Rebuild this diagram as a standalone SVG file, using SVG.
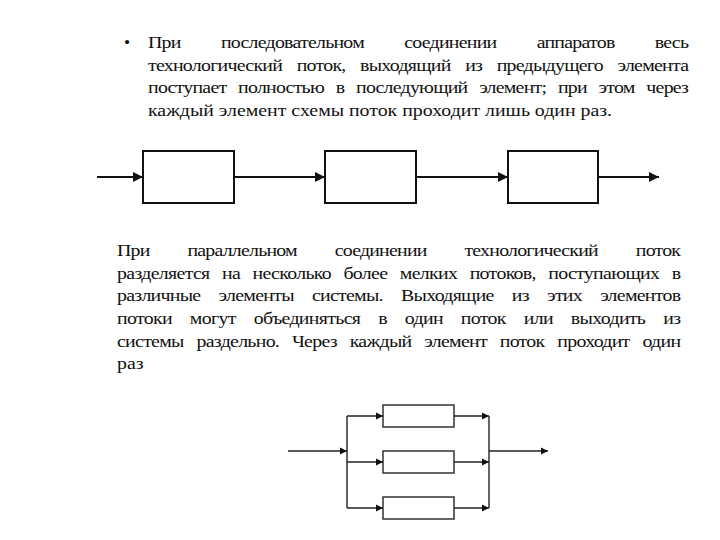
<svg xmlns="http://www.w3.org/2000/svg" width="720" height="540" viewBox="0 0 720 540">
<style>
.t{font-size:17.5px;fill:#111}
.box{fill:#fff;stroke:#111;stroke-width:2}
.pbox{fill:#fff;stroke:#333;stroke-width:1.5}
.c{fill:none;stroke:#111;stroke-width:2}
.pc{fill:none;stroke:#222;stroke-width:1.4}
</style>
<defs>
<marker id="a" viewBox="0 0 10 10" refX="10" refY="5" markerWidth="10" markerHeight="10" markerUnits="userSpaceOnUse" orient="auto"><path d="M0,0 L10,5 L0,10 z" fill="#111"/></marker>
<marker id="b" viewBox="0 0 10 10" refX="10" refY="5" markerWidth="7.5" markerHeight="7.5" markerUnits="userSpaceOnUse" orient="auto"><path d="M0,0 L10,5 L0,10 z" fill="#111"/></marker>
</defs>
<rect width="720" height="540" fill="#fff"/>
<g id="text1" font-family="Liberation Serif, DejaVu Serif, serif">
<text class="t" x="124" y="48">•</text>
<g transform="scale(1.136,1)">
<text class="t" x="130.3" y="48" textLength="476.2" lengthAdjust="spacing" word-spacing="31.7">При последовательном соединении аппаратов весь</text>
<text class="t" x="130.3" y="70.6" textLength="476.2" lengthAdjust="spacing" word-spacing="9.1">технологический поток, выходящий из предыдущего элемента</text>
<text class="t" x="130.3" y="93.2" textLength="476.2" lengthAdjust="spacing" word-spacing="6.6">поступает полностью в последующий элемент; при этом через</text>
<text class="t" x="130.3" y="115.8" textLength="408.5" lengthAdjust="spacing">каждый элемент схемы поток проходит лишь один раз.</text>
</g>
</g>
<g id="text2" font-family="Liberation Serif, DejaVu Serif, serif" transform="scale(1.136,1)">
<text class="t" x="103" y="256.3" textLength="496.5" lengthAdjust="spacing" word-spacing="29.6">При параллельном соединении технологический поток</text>
<text class="t" x="103" y="278.9" textLength="496.5" lengthAdjust="spacing" word-spacing="7.1">разделяется на несколько более мелких потоков, поступающих в</text>
<text class="t" x="103" y="301.5" textLength="496.5" lengthAdjust="spacing" word-spacing="12.3">различные элементы системы. Выходящие из этих элементов</text>
<text class="t" x="103" y="324.1" textLength="496.5" lengthAdjust="spacing" word-spacing="12">потоки могут объединяться в один поток или выходить из</text>
<text class="t" x="103" y="346.7" textLength="496.5" lengthAdjust="spacing" word-spacing="7.5">системы раздельно. Через каждый элемент поток проходит один</text>
<text class="t" x="103" y="369.3">раз</text>
</g>
<g id="series-box1"><rect class="box" x="143" y="151" width="91" height="52"/></g>
<g id="series-box2"><rect class="box" x="325" y="151" width="91" height="52"/></g>
<g id="series-box3"><rect class="box" x="508" y="151" width="90" height="52"/></g>
<g id="par-box1"><rect class="pbox" x="383" y="405" width="71" height="22"/></g>
<g id="par-box2"><rect class="pbox" x="383" y="451" width="71" height="22"/></g>
<g id="par-box3"><rect class="pbox" x="383" y="497" width="71" height="22"/></g>
<g id="connectors">
<path class="c" d="M97,177 H143" marker-end="url(#a)"/>
<path class="c" d="M234,177 H325" marker-end="url(#a)"/>
<path class="c" d="M416,177 H508" marker-end="url(#a)"/>
<path class="c" d="M598,177 H659" marker-end="url(#a)"/>
<path class="pc" d="M288,451 H347" marker-end="url(#b)"/>
<path class="pc" d="M347,416 V508"/>
<path class="pc" d="M347,416 H383" marker-end="url(#b)"/>
<path class="pc" d="M347,462 H383" marker-end="url(#b)"/>
<path class="pc" d="M347,508 H383" marker-end="url(#b)"/>
<path class="pc" d="M454,416 H489" marker-end="url(#b)"/>
<path class="pc" d="M454,462 H489" marker-end="url(#b)"/>
<path class="pc" d="M454,508 H489" marker-end="url(#b)"/>
<path class="pc" d="M489,416 V508"/>
<path class="pc" d="M489,451 H548" marker-end="url(#b)"/>
</g>
</svg>
